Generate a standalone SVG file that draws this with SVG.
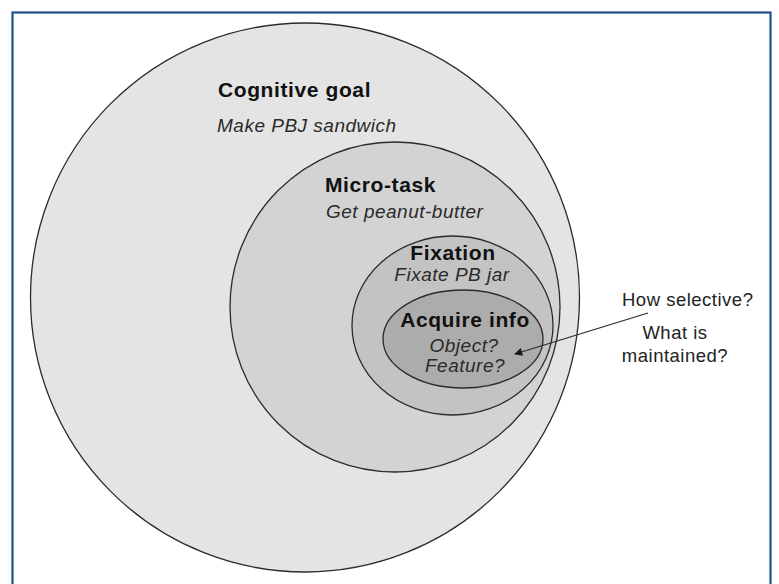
<svg xmlns="http://www.w3.org/2000/svg" width="779" height="584" viewBox="0 0 779 584">
  <style>
    .ring { stroke: #2b2b2b; stroke-width: 1.3; }
    .title { font-family: "Liberation Sans", Arial, sans-serif; font-weight: bold; font-size: 21px; fill: #111; letter-spacing: 0.6px; }
    .sub { font-family: "Liberation Sans", Arial, sans-serif; font-style: italic; font-size: 19px; fill: #2a2a2a; letter-spacing: 0.5px; }
    .note { font-family: "Liberation Sans", Arial, sans-serif; font-size: 18.5px; fill: #222; letter-spacing: 0.5px; }
    .mid { text-anchor: middle; }
    .link { stroke: #2b2b2b; stroke-width: 1.3; fill: none; }
  </style>
  <defs>
    <marker id="arrow" viewBox="0 0 10 10" refX="9" refY="5" markerWidth="12" markerHeight="8" markerUnits="userSpaceOnUse" orient="auto">
      <path d="M0,0 L10,5 L0,10 z" fill="#1a1a1a"/>
    </marker>
  </defs>

  <rect x="0" y="0" width="779" height="584" fill="#fff"/>
  <!-- frame, open at the bottom edge -->
  <rect x="12.5" y="12.5" width="758" height="600" fill="none" stroke="#22508a" stroke-width="2.2"/>

  <g id="cognitive-goal">
    <circle class="ring" cx="305" cy="297.5" r="274.5" fill="#e4e4e4"/>
    <text class="title" x="218" y="97">Cognitive goal</text>
    <text class="sub" x="217" y="132">Make PBJ sandwich</text>
  </g>

  <g id="micro-task">
    <circle class="ring" cx="395" cy="307" r="165" fill="#d3d3d3"/>
    <text class="title" x="325" y="192">Micro-task</text>
    <text class="sub" x="326" y="218">Get peanut-butter</text>
  </g>

  <g id="fixation">
    <ellipse class="ring" cx="452.5" cy="325.5" rx="100.5" ry="89.5" fill="#c3c3c3"/>
    <text class="title mid" x="453" y="260">Fixation</text>
    <text class="sub mid" x="452" y="281">Fixate PB jar</text>
  </g>

  <g id="acquire-info">
    <ellipse class="ring" cx="463" cy="339" rx="80" ry="49" fill="#acacac"/>
    <text class="title mid" x="465" y="327">Acquire info</text>
    <text class="sub mid" x="464" y="352">Object?</text>
    <text class="sub mid" x="465" y="372">Feature?</text>
  </g>

  <g id="questions">
    <text class="note" x="622" y="306">How selective?</text>
    <text class="note mid" x="675" y="339">What is</text>
    <text class="note mid" x="675" y="362">maintained?</text>
  </g>

  <g id="connectors">
    <line class="link" x1="648" y1="313" x2="515" y2="354" marker-end="url(#arrow)"/>
  </g>
</svg>
